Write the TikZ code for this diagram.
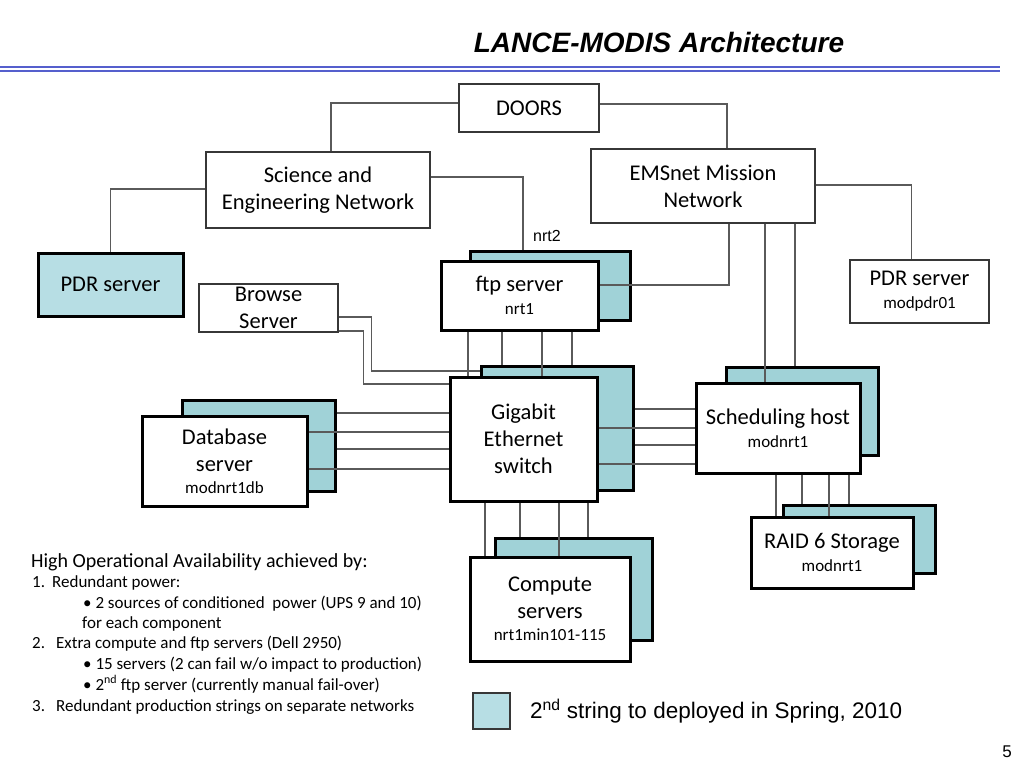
\documentclass[tikz,border=0pt]{standalone}
\usepackage{fontspec}
\setmainfont{Carlito}
\newfontfamily\arialfont{Liberation Sans}
\usetikzlibrary{positioning,calc}

\definecolor{stringblue}{RGB}{160,210,215}
\definecolor{pdrblue}{RGB}{183,222,228}
\definecolor{boxgray}{RGB}{55,55,55}
\definecolor{wiregray}{RGB}{90,90,90}
\definecolor{rulecolor}{RGB}{85,95,205}

\newcommand\boxfont{\fontsize{22.5}{27}\selectfont}
\newcommand\subfont{\fontsize{17}{22}\selectfont}
\newcommand\notefont{\fontsize{17}{21}\selectfont}

\tikzset{
	thinbox/.style={draw=boxgray, line width=1.4pt, fill=white, inner sep=0pt, align=center, font=\boxfont},
	thickbox/.style={draw=black, line width=3pt, fill=white, inner sep=0pt, align=center, font=\boxfont},
	backbox/.style={draw=black, line width=3pt, fill=stringblue, inner sep=0pt},
	wire/.style={draw=wiregray, line width=1.2pt},
	noteline/.style={anchor=base west, font=\notefont, inner sep=0pt},
}

\begin{document}
\begin{tikzpicture}[x=1pt,y=-1pt]
	\useasboundingbox (0,0) rectangle (1024,768);

	% title
	\node[font=\arialfont\fontsize{28}{32}\selectfont\bfseries\itshape] (title) at (659,42) {LANCE-MODIS Architecture};
	\draw[rulecolor, line width=1.4pt] (0,67) -- (1000,67);
	\draw[rulecolor, line width=1.4pt] (0,71) -- (1000,71);

	% networks
	\node[thinbox, minimum width=140pt, minimum height=48pt] (doors) at (529,108) {DOORS};
	\node[thinbox, minimum width=224pt, minimum height=76pt] (sen) at (318,190) {Science and\\Engineering Network};
	\node[thinbox, minimum width=224pt, minimum height=74pt] (ems) at (703,186) {EMSnet Mission\\Network};

	% servers, top row
	\node[thickbox, fill=pdrblue, minimum width=145pt, minimum height=63pt] (pdrl) at (110.5,284.5) {PDR server};
	\node[thinbox, minimum width=139pt, minimum height=48pt] (browse) at (268.5,308) {Browse\\Server};
	\node[backbox, minimum width=160pt, minimum height=69pt] (ftp2) at (550,285.5) {};
	\node[thickbox, minimum width=157pt, minimum height=69pt] (ftp) at (519.5,295.5) {ftp server\\[-4pt]{\subfont nrt1}};
	\node[font=\arialfont\fontsize{16}{18}\selectfont] (nrt2) at (547,236) {nrt2};
	\node[thinbox, minimum width=139pt, minimum height=63pt] (pdrr) at (919.5,291.5) {PDR server\\[-4pt]{\subfont modpdr01}};

	% middle row
	\node[backbox, minimum width=152pt, minimum height=124pt] (sw2) at (557,428) {};
	\node[thickbox, minimum width=147pt, minimum height=124pt] (sw) at (523.5,439) {Gigabit\\Ethernet\\switch};
	\node[backbox, minimum width=153pt, minimum height=91pt] (db2) at (258.5,445.5) {};
	\node[thickbox, minimum width=165pt, minimum height=90pt] (db) at (224.5,461) {Database\\server\\[-5pt]{\subfont modnrt1db}};
	\node[backbox, minimum width=152pt, minimum height=88pt] (sch2) at (802,411) {};
	\node[thickbox, minimum width=164pt, minimum height=90pt] (sch) at (778,428) {Scheduling host\\[-4pt]{\subfont modnrt1}};

	% bottom row
	\node[backbox, minimum width=152pt, minimum height=68pt] (raid2) at (859,539) {};
	\node[thickbox, minimum width=162pt, minimum height=71pt] (raid) at (832,552.5) {RAID 6 Storage\\[-4pt]{\subfont modnrt1}};
	\node[backbox, minimum width=157pt, minimum height=102pt] (cmp2) at (573.5,589) {};
	\node[thickbox, minimum width=160pt, minimum height=104pt] (cmp) at (550,609) {Compute\\servers\\[-5pt]{\subfont nrt1min101-115}};

	% network links
	\draw[wire] ($(doors.west)+(0,-5)$) -| ($(sen.north)+(13,0)$);
	\draw[wire] ($(doors.east)+(0,-4)$) -| ($(ems.north)+(24,0)$);
	\draw[wire] ($(sen.west)+(0,-1)$) -| (pdrl.north);
	\draw[wire] ($(sen.east)+(0,-13)$) -| ($(ftp2.north)+(-27,0)$);
	\draw[wire] ($(ems.east)+(0,-1)$) -| ($(pdrr.north)+(-8,0)$);
	\draw[wire] ($(ems.south)+(26,0)$) |- ($(ftp.east)+(0,-10.5)$);
	\draw[wire] ($(ems.south)+(62,0)$) -- ($(sch.north)+(-13,0)$);
	\draw[wire] ($(ems.south)+(92,0)$) -- ($(sch2.north)+(-7,0)$);

	% browse server to switch
	\draw[wire] ($(browse.east)+(0,9)$) -- ++(33,0) |- ($(sw2.west)+(0,-57)$);
	\draw[wire] ($(browse.east)+(0,23)$) -- ++(25,0) |- ($(sw.west)+(0,-55)$);

	% ftp server to switch
	\draw[wire] ($(ftp.south)+(-51.5,0)$) -- ($(sw.north)+(-55.5,0)$);
	\draw[wire] ($(ftp.south)+(-17.5,0)$) -- ($(sw2.north)+(-55,0)$);
	\draw[wire] ($(ftp.south)+(22.5,0)$) -- ($(sw.north)+(18.5,0)$);
	\draw[wire] ($(ftp.south)+(52.5,0)$) -- ($(sw2.north)+(15,0)$);

	% database server to switch
	\draw[wire] ($(db2.east)+(0,-32.5)$) -- ($(sw.west)+(0,-26)$);
	\draw[wire] ($(db.east)+(0,-29)$) -- ($(sw.west)+(0,-7)$);
	\draw[wire] ($(db2.east)+(0,3.5)$) -- ($(sw.west)+(0,10)$);
	\draw[wire] ($(db.east)+(0,8)$) -- ($(sw.west)+(0,30)$);

	% switch to scheduling host
	\draw[wire] ($(sw2.east)+(0,-19)$) -- ($(sch.west)+(0,-19)$);
	\draw[wire] ($(sw.east)+(0,-11)$) -- ($(sch.west)+(0,0)$);
	\draw[wire] ($(sw2.east)+(0,17)$) -- ($(sch.west)+(0,17)$);
	\draw[wire] ($(sw.east)+(0,25)$) -- ($(sch.west)+(0,36)$);

	% switch to compute servers
	\draw[wire] ($(sw.south)+(-38.5,0)$) -- ($(cmp.north)+(-65,0)$);
	\draw[wire] ($(sw.south)+(-3.5,0)$) -- ($(cmp2.north)+(-53.5,0)$);
	\draw[wire] ($(sw.south)+(35.5,0)$) -- ($(cmp.north)+(9,0)$);
	\draw[wire] ($(sw.south)+(64.5,0)$) -- ($(cmp2.north)+(14.5,0)$);

	% scheduling host to storage
	\draw[wire] ($(sch.south)+(-2,0)$) -- ($(raid.north)+(-56,0)$);
	\draw[wire] ($(sch.south)+(24,0)$) -- ($(raid2.north)+(-57,0)$);
	\draw[wire] ($(sch.south)+(51,0)$) -- ($(raid.north)+(-3,0)$);
	\draw[wire] ($(sch.south)+(71,0)$) -- ($(raid2.north)+(-10,0)$);

	% availability notes
	\node[noteline, font=\fontsize{20}{24}\selectfont] (note0) at (31,567) {High Operational Availability achieved by:};
	\node[noteline] (note1) at (32,587) {\makebox[20pt][l]{1.}Redundant power:};
	\node[noteline] (note2) at (83,608) {• 2 sources of conditioned\ \ power (UPS 9 and 10)};
	\node[noteline] (note3) at (82,628) {for each component};
	\node[noteline] (note4) at (32,648) {\makebox[24pt][l]{2.}Extra compute and ftp servers (Dell 2950)};
	\node[noteline] (note5) at (83,669) {• 15 servers (2 can fail w/o impact to production)};
	\node[noteline] (note6) at (83,690) {• 2\textsuperscript{nd} ftp server (currently manual fail-over)};
	\node[noteline] (note7) at (32,711) {\makebox[24pt][l]{3.}Redundant production strings on separate networks};

	% legend
	\node[draw=boxgray, line width=1.2pt, fill=pdrblue, minimum width=37pt, minimum height=36pt, inner sep=0pt] (key) at (491.5,711) {};
	\node[anchor=west, font=\arialfont\fontsize{22.5}{26}\selectfont, inner sep=0pt] (keytext) at (530,711) {2\textsuperscript{nd} string to deployed in Spring, 2010};

	\node[font=\arialfont\fontsize{17}{20}\selectfont] (page) at (1007,752) {5};
\end{tikzpicture}
\end{document}
